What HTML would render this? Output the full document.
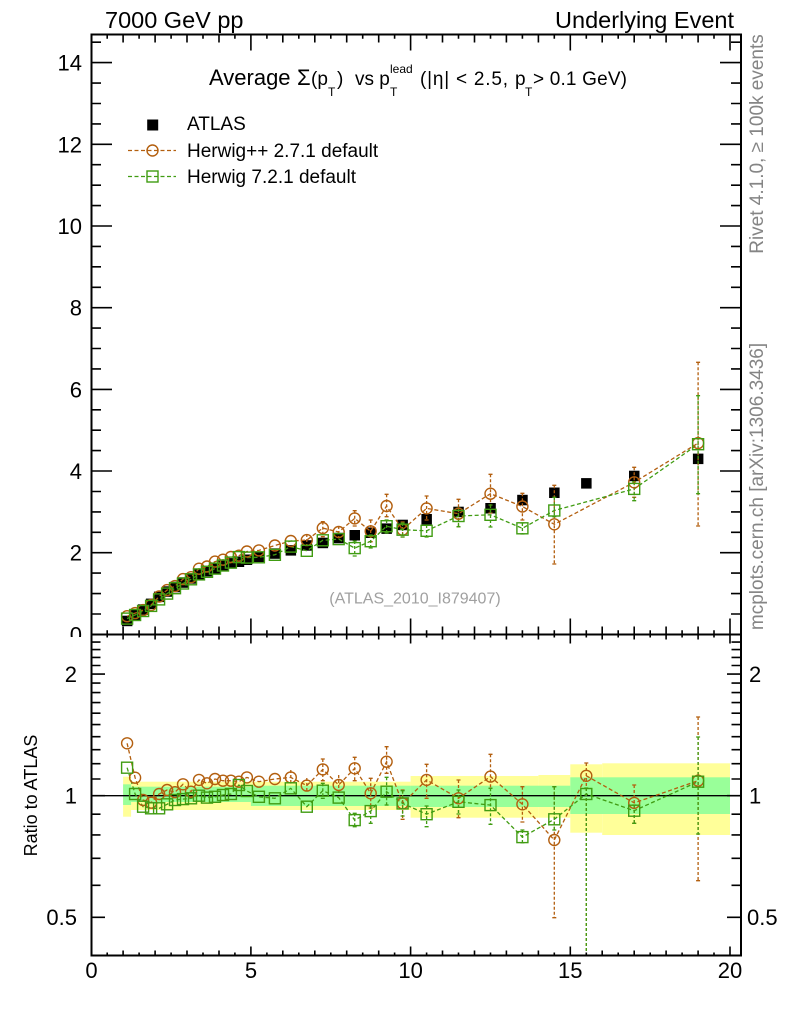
<!DOCTYPE html>
<html><head><meta charset="utf-8"><style>
html,body{margin:0;padding:0;background:#fff;}
svg{display:block;font-family:"Liberation Sans",Arial,sans-serif;}
</style></head><body>
<svg width="786" height="1024" viewBox="0 0 786 1024" xmlns="http://www.w3.org/2000/svg">
<rect width="786" height="1024" fill="#fff"/>
<defs>
<clipPath id="cm"><rect x="91.5" y="34.5" width="649.5" height="600"/></clipPath>
<clipPath id="cr"><rect x="91.5" y="634.5" width="649.5" height="321"/></clipPath>
<clipPath id="c0"><rect x="0" y="0" width="91" height="637"/></clipPath>
</defs>

<!-- ===== Ratio bands ===== -->
<g clip-path="url(#cr)">
<g fill="#ffff99">
<rect x="123.1" y="776.7" width="8" height="40"/>
<rect x="131.1" y="781.7" width="279.5" height="28.3"/>
<rect x="410.6" y="776" width="127.8" height="41.7"/>
<rect x="538.4" y="775" width="31.9" height="42.7"/>
<rect x="570.3" y="764.3" width="31.9" height="68.4"/>
<rect x="602.2" y="763.3" width="127.8" height="71.7"/>
</g>
<g fill="#99ff99">
<rect x="123.1" y="784.3" width="8" height="20.7"/>
<rect x="131.1" y="786.7" width="119.8" height="15.3"/>
<rect x="250.9" y="785.7" width="159.7" height="20.3"/>
<rect x="410.6" y="785.7" width="159.7" height="21.3"/>
<rect x="570.3" y="777.3" width="159.7" height="36.7"/>
</g>
<path d="M91.5 795.7H741" stroke="#000" stroke-width="1.3"/>

<!-- ratio error bars -->
<g stroke="#b35f0f" stroke-width="1.3" fill="none">
<path stroke-dasharray="3 2" d="M290.8 770V785M306.8 778V793M322.8 759V780.7M338.7 775V795M354.7 757.3V780.7M370.7 778.3V808M386.6 746.7V773.3M402.6 790V819.3M426.6 764.3V798.3M458.5 780V817.7M490.5 754.3V788.3M522.4 786.7V822M554.3 786.7V917.7M586.3 763V960M634.2 785V823.3M698.1 717V880.7"/>
<path d="M320.8 759h4M320.8 780.7h4M352.7 757.3h4M352.7 780.7h4M368.7 778.3h4M368.7 808h4M384.6 746.7h4M384.6 773.3h4M400.6 790h4M400.6 819.3h4M424.6 764.3h4M424.6 798.3h4M456.5 780h4M456.5 817.7h4M488.5 754.3h4M488.5 788.3h4M520.4 786.7h4M520.4 822h4M552.3 786.7h4M552.3 917.7h4M584.3 763h4M632.2 785h4M632.2 823.3h4M696.1 717h4M696.1 880.7h4"/>
</g>
<g stroke="#409c12" stroke-width="1.3" fill="none">
<path stroke-dasharray="3 2" d="M322.8 783.3V798.3M354.7 813.3V826.7M370.7 806V823.3M386.6 777.3V805M402.6 790.7V816M426.6 806V826.7M458.5 790V814M490.5 788.3V824.3M522.4 830V842.7M554.3 786.7V830M586.3 788V960M634.2 805V823.3M698.1 737V834"/>
<path d="M320.8 783.3h4M320.8 798.3h4M352.7 813.3h4M352.7 826.7h4M368.7 806h4M368.7 823.3h4M384.6 777.3h4M384.6 805h4M400.6 790.7h4M400.6 816h4M424.6 806h4M424.6 826.7h4M456.5 790h4M456.5 814h4M488.5 788.3h4M488.5 824.3h4M520.4 830h4M520.4 842.7h4M552.3 786.7h4M552.3 830h4M584.3 788h4M632.2 805h4M632.2 823.3h4M696.1 737h4M696.1 834h4"/>
</g>

<!-- ratio lines -->
<polyline fill="none" stroke="#b35f0f" stroke-width="1.3" stroke-dasharray="4 2.5" points="127.1,743.3 135.1,777.7 143.1,800 151.1,802.7 159.1,794 167.1,790 175,792.2 183,784.3 191,791.7 199,779.9 207,783.3 215,779 223,780.7 230.9,780.7 238.9,781.7 246.9,777.4 258.9,781.7 274.9,779 290.8,777.4 306.8,785.6 322.8,769.4 338.7,785 354.7,768.3 370.7,793.3 386.6,761.7 402.6,803.4 426.6,779.9 458.5,798.3 490.5,776.6 522.4,804.3 554.3,840 586.3,775.8 634.2,802.9 698.1,780.7"/>
<polyline fill="none" stroke="#409c12" stroke-width="1.3" stroke-dasharray="4 2.5" points="127.1,767.7 135.1,794 143.1,806.7 151.1,808.3 159.1,808.3 167.1,804.3 175,800 183,799.1 191,798.3 199,795.7 207,797.6 215,796.8 223,795 230.9,794 238.9,785 246.9,791 258.9,796.8 274.9,798.3 290.8,788.3 306.8,806.7 322.8,790.7 338.7,797.6 354.7,820.1 370.7,811.1 386.6,791.7 402.6,803.4 426.6,814.2 458.5,801.8 490.5,805.1 522.4,837.1 554.3,819.3 586.3,794 634.2,810.7 698.1,781.7"/>

<!-- ratio markers -->
<g fill="none" stroke="#b35f0f" stroke-width="1.4">
<circle cx="127.1" cy="743.3" r="5.5"/><circle cx="135.1" cy="777.7" r="5.5"/><circle cx="143.1" cy="800" r="5.5"/><circle cx="151.1" cy="802.7" r="5.5"/><circle cx="159.1" cy="794" r="5.5"/><circle cx="167.1" cy="790" r="5.5"/><circle cx="175" cy="792.2" r="5.5"/><circle cx="183" cy="784.3" r="5.5"/><circle cx="191" cy="791.7" r="5.5"/><circle cx="199" cy="779.9" r="5.5"/><circle cx="207" cy="783.3" r="5.5"/><circle cx="215" cy="779" r="5.5"/><circle cx="223" cy="780.7" r="5.5"/><circle cx="230.9" cy="780.7" r="5.5"/><circle cx="238.9" cy="781.7" r="5.5"/><circle cx="246.9" cy="777.4" r="5.5"/><circle cx="258.9" cy="781.7" r="5.5"/><circle cx="274.9" cy="779" r="5.5"/><circle cx="290.8" cy="777.4" r="5.5"/><circle cx="306.8" cy="785.6" r="5.5"/><circle cx="322.8" cy="769.4" r="5.5"/><circle cx="338.7" cy="785" r="5.5"/><circle cx="354.7" cy="768.3" r="5.5"/><circle cx="370.7" cy="793.3" r="5.5"/><circle cx="386.6" cy="761.7" r="5.5"/><circle cx="402.6" cy="803.4" r="5.5"/><circle cx="426.6" cy="779.9" r="5.5"/><circle cx="458.5" cy="798.3" r="5.5"/><circle cx="490.5" cy="776.6" r="5.5"/><circle cx="522.4" cy="804.3" r="5.5"/><circle cx="554.3" cy="840" r="5.5"/><circle cx="586.3" cy="775.8" r="5.5"/><circle cx="634.2" cy="802.9" r="5.5"/><circle cx="698.1" cy="780.7" r="5.5"/>
</g>
<g fill="none" stroke="#409c12" stroke-width="1.4">
<rect x="121.6" y="762.2" width="11" height="11"/><rect x="129.6" y="788.5" width="11" height="11"/><rect x="137.6" y="801.2" width="11" height="11"/><rect x="145.6" y="802.8" width="11" height="11"/><rect x="153.6" y="802.8" width="11" height="11"/><rect x="161.6" y="798.8" width="11" height="11"/><rect x="169.5" y="794.5" width="11" height="11"/><rect x="177.5" y="793.6" width="11" height="11"/><rect x="185.5" y="792.8" width="11" height="11"/><rect x="193.5" y="790.2" width="11" height="11"/><rect x="201.5" y="792.1" width="11" height="11"/><rect x="209.5" y="791.3" width="11" height="11"/><rect x="217.5" y="789.5" width="11" height="11"/><rect x="225.4" y="788.5" width="11" height="11"/><rect x="233.4" y="779.5" width="11" height="11"/><rect x="241.4" y="785.5" width="11" height="11"/><rect x="253.4" y="791.3" width="11" height="11"/><rect x="269.4" y="792.8" width="11" height="11"/><rect x="285.3" y="782.8" width="11" height="11"/><rect x="301.3" y="801.2" width="11" height="11"/><rect x="317.3" y="785.2" width="11" height="11"/><rect x="333.2" y="792.1" width="11" height="11"/><rect x="349.2" y="814.6" width="11" height="11"/><rect x="365.2" y="805.6" width="11" height="11"/><rect x="381.1" y="786.2" width="11" height="11"/><rect x="397.1" y="797.9" width="11" height="11"/><rect x="421.1" y="808.7" width="11" height="11"/><rect x="453" y="796.3" width="11" height="11"/><rect x="485" y="799.6" width="11" height="11"/><rect x="516.9" y="831.6" width="11" height="11"/><rect x="548.8" y="813.8" width="11" height="11"/><rect x="580.8" y="788.5" width="11" height="11"/><rect x="628.7" y="805.2" width="11" height="11"/><rect x="692.6" y="776.2" width="11" height="11"/>
</g>
</g>

<!-- ===== Main plot ===== -->
<g clip-path="url(#cm)">
<g fill="#000">
<rect x="121.9" y="615.7" width="10.5" height="10.5"/><rect x="129.9" y="610" width="10.5" height="10.5"/><rect x="137.9" y="604.3" width="10.5" height="10.5"/><rect x="145.9" y="598.6" width="10.5" height="10.5"/><rect x="153.9" y="591.6" width="10.5" height="10.5"/><rect x="161.9" y="586.3" width="10.5" height="10.5"/><rect x="169.8" y="581.8" width="10.5" height="10.5"/><rect x="177.8" y="577.3" width="10.5" height="10.5"/><rect x="185.8" y="573.2" width="10.5" height="10.5"/><rect x="193.8" y="569.2" width="10.5" height="10.5"/><rect x="201.8" y="565.9" width="10.5" height="10.5"/><rect x="209.8" y="563" width="10.5" height="10.5"/><rect x="217.8" y="560.6" width="10.5" height="10.5"/><rect x="225.7" y="558.1" width="10.5" height="10.5"/><rect x="233.7" y="556.5" width="10.5" height="10.5"/><rect x="241.7" y="554.5" width="10.5" height="10.5"/><rect x="253.7" y="551.6" width="10.5" height="10.5"/><rect x="269.7" y="548.3" width="10.5" height="10.5"/><rect x="285.6" y="545.1" width="10.5" height="10.5"/><rect x="301.6" y="540.2" width="10.5" height="10.5"/><rect x="317.6" y="537.7" width="10.5" height="10.5"/><rect x="333.5" y="532.8" width="10.5" height="10.5"/><rect x="349.5" y="530" width="10.5" height="10.5"/><rect x="365.5" y="527.5" width="10.5" height="10.5"/><rect x="381.4" y="523.4" width="10.5" height="10.5"/><rect x="397.4" y="519.7" width="10.5" height="10.5"/><rect x="421.4" y="514" width="10.5" height="10.5"/><rect x="453.3" y="506.7" width="10.5" height="10.5"/><rect x="485.3" y="503" width="10.5" height="10.5"/><rect x="517.2" y="494.8" width="10.5" height="10.5"/><rect x="549.1" y="487.5" width="10.5" height="10.5"/><rect x="581.1" y="478.1" width="10.5" height="10.5"/><rect x="629" y="470.7" width="10.5" height="10.5"/><rect x="692.9" y="453.6" width="10.5" height="10.5"/>
</g>

<g stroke="#b35f0f" stroke-width="1.3" fill="none">
<path stroke-dasharray="3 2" d="M306.8 534V546M322.8 521.7V536.7M338.7 526V538M354.7 510.7V526M370.7 520V541.7M386.6 494.3V516.7M402.6 522V537M426.6 496V520M458.5 499.3V526.7M490.5 474.3V513M522.4 493.3V520M554.3 485.3V564M634.2 467.3V497.3M698.1 362.3V526"/>
<path d="M320.8 521.7h4M320.8 536.7h4M352.7 510.7h4M352.7 526h4M368.7 520h4M368.7 541.7h4M384.6 494.3h4M384.6 516.7h4M400.6 522h4M400.6 537h4M424.6 496h4M424.6 520h4M456.5 499.3h4M456.5 526.7h4M488.5 474.3h4M488.5 513h4M520.4 493.3h4M520.4 520h4M552.3 485.3h4M552.3 564h4M632.2 467.3h4M632.2 497.3h4M696.1 362.3h4M696.1 526h4"/>
</g>
<g stroke="#409c12" stroke-width="1.3" fill="none">
<path stroke-dasharray="3 2" d="M354.7 541V556M370.7 535V548M386.6 520V533M402.6 523V537M426.6 525V537M458.5 508V526.7M490.5 505V527M522.4 523V534M554.3 497.3V516.7M634.2 481.7V500.7M698.1 395.7V493.7"/>
<path d="M352.7 541h4M352.7 556h4M368.7 535h4M368.7 548h4M384.6 520h4M384.6 533h4M400.6 523h4M400.6 537h4M424.6 525h4M424.6 537h4M456.5 508h4M456.5 526.7h4M488.5 505h4M488.5 527h4M520.4 523h4M520.4 534h4M552.3 497.3h4M552.3 516.7h4M632.2 481.7h4M632.2 500.7h4M696.1 395.7h4M696.1 493.7h4"/>
</g>

<polyline fill="none" stroke="#b35f0f" stroke-width="1.3" stroke-dasharray="4 2.5" points="127.1,616.2 135.1,613.1 143.1,610.1 151.1,605 159.1,596.5 167.1,590.1 175,586.1 183,579.1 191,577.2 199,568.7 207,566.5 215,561.6 223,559.7 230.9,557 238.9,555.7 246.9,551.5 258.9,550.4 274.9,545.5 290.8,541 306.8,540.1 322.8,528.1 338.7,532 354.7,518.4 370.7,531.3 386.6,506 402.6,529.7 426.6,508.4 458.5,513.7 490.5,493.7 522.4,506.5 554.3,524.3 634.2,482.3 698.1,443.1"/>
<polyline fill="none" stroke="#409c12" stroke-width="1.3" stroke-dasharray="4 2.5" points="127.1,618.6 135.1,615 143.1,611 151.1,605.9 159.1,599.4 167.1,593.6 175,588.2 183,583.5 191,579.3 199,574.4 207,571.8 215,568.6 223,565.5 230.9,562.6 238.9,557.1 246.9,557.6 258.9,557.3 274.9,554.8 290.8,546.6 306.8,550.8 322.8,540.3 338.7,539.1 354.7,548.1 370.7,541.2 386.6,526.2 402.6,529.7 426.6,530.8 458.5,516 490.5,514.8 522.4,528.3 554.3,510.5 634.2,488.9 698.1,444.2"/>

<g fill="none" stroke="#b35f0f" stroke-width="1.4">
<circle cx="127.1" cy="616.2" r="5.5"/><circle cx="135.1" cy="613.1" r="5.5"/><circle cx="143.1" cy="610.1" r="5.5"/><circle cx="151.1" cy="605" r="5.5"/><circle cx="159.1" cy="596.5" r="5.5"/><circle cx="167.1" cy="590.1" r="5.5"/><circle cx="175" cy="586.1" r="5.5"/><circle cx="183" cy="579.1" r="5.5"/><circle cx="191" cy="577.2" r="5.5"/><circle cx="199" cy="568.7" r="5.5"/><circle cx="207" cy="566.5" r="5.5"/><circle cx="215" cy="561.6" r="5.5"/><circle cx="223" cy="559.7" r="5.5"/><circle cx="230.9" cy="557" r="5.5"/><circle cx="238.9" cy="555.7" r="5.5"/><circle cx="246.9" cy="551.5" r="5.5"/><circle cx="258.9" cy="550.4" r="5.5"/><circle cx="274.9" cy="545.5" r="5.5"/><circle cx="290.8" cy="541" r="5.5"/><circle cx="306.8" cy="540.1" r="5.5"/><circle cx="322.8" cy="528.1" r="5.5"/><circle cx="338.7" cy="532" r="5.5"/><circle cx="354.7" cy="518.4" r="5.5"/><circle cx="370.7" cy="531.3" r="5.5"/><circle cx="386.6" cy="506" r="5.5"/><circle cx="402.6" cy="529.7" r="5.5"/><circle cx="426.6" cy="508.4" r="5.5"/><circle cx="458.5" cy="513.7" r="5.5"/><circle cx="490.5" cy="493.7" r="5.5"/><circle cx="522.4" cy="506.5" r="5.5"/><circle cx="554.3" cy="524.3" r="5.5"/><circle cx="634.2" cy="482.3" r="5.5"/><circle cx="698.1" cy="443.1" r="5.5"/>
</g>
<g fill="none" stroke="#409c12" stroke-width="1.4">
<rect x="121.6" y="613.1" width="11" height="11"/><rect x="129.6" y="609.5" width="11" height="11"/><rect x="137.6" y="605.5" width="11" height="11"/><rect x="145.6" y="600.4" width="11" height="11"/><rect x="153.6" y="593.9" width="11" height="11"/><rect x="161.6" y="588.1" width="11" height="11"/><rect x="169.5" y="582.7" width="11" height="11"/><rect x="177.5" y="578" width="11" height="11"/><rect x="185.5" y="573.8" width="11" height="11"/><rect x="193.5" y="568.9" width="11" height="11"/><rect x="201.5" y="566.3" width="11" height="11"/><rect x="209.5" y="563.1" width="11" height="11"/><rect x="217.5" y="560" width="11" height="11"/><rect x="225.4" y="557.1" width="11" height="11"/><rect x="233.4" y="551.6" width="11" height="11"/><rect x="241.4" y="552.1" width="11" height="11"/><rect x="253.4" y="551.8" width="11" height="11"/><rect x="269.4" y="549.3" width="11" height="11"/><rect x="285.3" y="541.1" width="11" height="11"/><rect x="301.3" y="545.3" width="11" height="11"/><rect x="317.3" y="534.8" width="11" height="11"/><rect x="333.2" y="533.6" width="11" height="11"/><rect x="349.2" y="542.6" width="11" height="11"/><rect x="365.2" y="535.7" width="11" height="11"/><rect x="381.1" y="520.7" width="11" height="11"/><rect x="397.1" y="524.2" width="11" height="11"/><rect x="421.1" y="525.3" width="11" height="11"/><rect x="453" y="510.5" width="11" height="11"/><rect x="485" y="509.3" width="11" height="11"/><rect x="516.9" y="522.8" width="11" height="11"/><rect x="548.8" y="505" width="11" height="11"/><rect x="628.7" y="483.4" width="11" height="11"/><rect x="692.6" y="438.7" width="11" height="11"/>
</g>
</g>

<!-- ===== Legend ===== -->
<rect x="147.2" y="119.5" width="11" height="11" fill="#000"/>
<path d="M128 150.5H176" stroke="#b35f0f" stroke-width="1.3" stroke-dasharray="4 2.5"/>
<circle cx="152.5" cy="150.5" r="5.5" fill="none" stroke="#b35f0f" stroke-width="1.4"/>
<path d="M128 176.5H176" stroke="#409c12" stroke-width="1.3" stroke-dasharray="4 2.5"/>
<rect x="147" y="171" width="11" height="11" fill="none" stroke="#409c12" stroke-width="1.4"/>
<g font-size="19" fill="#000">
<text x="187" y="130">ATLAS</text>
<text x="187" y="157">Herwig++ 2.7.1 default</text>
<text x="187" y="183">Herwig 7.2.1 default</text>
</g>

<!-- ===== Frames ===== -->
<rect x="91.5" y="34.5" width="649.5" height="600" fill="none" stroke="#000" stroke-width="2"/>
<rect x="91.5" y="634.5" width="649.5" height="321" fill="none" stroke="#000" stroke-width="2"/>

<g id="mly" stroke="#000" stroke-width="1.6" fill="none">
<path d="M91 552.7h21M91 471h21M91 389.4h21M91 307.7h21M91 226h21M91 144.3h21M91 62.6h21"/>
<path d="M91 614h10M91 593.6h10M91 573.1h10M91 532.3h10M91 511.9h10M91 491.5h10M91 450.6h10M91 430.2h10M91 409.8h10M91 368.9h10M91 348.5h10M91 328.1h10M91 287.3h10M91 266.8h10M91 246.4h10M91 205.6h10M91 185.2h10M91 164.7h10M91 123.9h10M91 103.5h10M91 83.1h10M91 42.2h10"/>
</g>
<use href="#mly" transform="translate(832,0) scale(-1,1)"/>

<g id="rly" stroke="#000" stroke-width="1.6" fill="none">
<path d="M91 917.3h14M91 795.7h14M91 674.1h14"/>
<path d="M91 885.3h9.5M91 858.3h9.5M91 834.9h9.5M91 814.2h9.5M91 779h9.5M91 763.7h9.5M91 749.7h9.5M91 736.7h9.5M91 724.6h9.5M91 713.2h9.5M91 702.6h9.5M91 692.6h9.5M91 683.1h9.5M91 665.5h9.5M91 657.4h9.5M91 649.6h9.5M91 642.1h9.5"/>
</g>
<use href="#rly" transform="translate(832,0) scale(-1,1)"/>

<g id="mtx" stroke="#000" stroke-width="1.6" fill="none">
<path d="M250.9 34.5v16M410.6 34.5v16M570.3 34.5v16M730 34.5v16"/>
<path d="M123.1 34.5v8M155.1 34.5v8M187 34.5v8M219 34.5v8M282.8 34.5v8M314.8 34.5v8M346.7 34.5v8M378.7 34.5v8M442.5 34.5v8M474.5 34.5v8M506.4 34.5v8M538.4 34.5v8M602.2 34.5v8M634.2 34.5v8M666.1 34.5v8M698.1 34.5v8"/>
<path d="M107.2 34.5v4.3M139.1 34.5v4.3M171.1 34.5v4.3M203 34.5v4.3M234.9 34.5v4.3M266.9 34.5v4.3M298.8 34.5v4.3M330.8 34.5v4.3M362.7 34.5v4.3M394.6 34.5v4.3M426.6 34.5v4.3M458.5 34.5v4.3M490.5 34.5v4.3M522.4 34.5v4.3M554.3 34.5v4.3M586.3 34.5v4.3M618.2 34.5v4.3M650.2 34.5v4.3M682.1 34.5v4.3M714 34.5v4.3"/>
</g>
<use href="#mtx" transform="translate(0,669) scale(1,-1)"/>

<g id="rtx" stroke="#000" stroke-width="1.6" fill="none">
<path d="M250.9 634.5v9M410.6 634.5v9M570.3 634.5v9M730 634.5v9"/>
<path d="M123.1 634.5v5M155.1 634.5v5M187 634.5v5M219 634.5v5M282.8 634.5v5M314.8 634.5v5M346.7 634.5v5M378.7 634.5v5M442.5 634.5v5M474.5 634.5v5M506.4 634.5v5M538.4 634.5v5M602.2 634.5v5M634.2 634.5v5M666.1 634.5v5M698.1 634.5v5"/>
<path d="M107.2 634.5v3M139.1 634.5v3M171.1 634.5v3M203 634.5v3M234.9 634.5v3M266.9 634.5v3M298.8 634.5v3M330.8 634.5v3M362.7 634.5v3M394.6 634.5v3M426.6 634.5v3M458.5 634.5v3M490.5 634.5v3M522.4 634.5v3M554.3 634.5v3M586.3 634.5v3M618.2 634.5v3M650.2 634.5v3M682.1 634.5v3M714 634.5v3"/>
</g>
<use href="#rtx" transform="translate(0,1590) scale(1,-1)"/>

<!-- ===== Tick labels ===== -->
<g font-size="22" fill="#000" text-anchor="end">
<text x="82" y="70.6">14</text>
<text x="82" y="152.3">12</text>
<text x="82" y="234">10</text>
<text x="82" y="315.7">8</text>
<text x="82" y="397.4">6</text>
<text x="82" y="479">4</text>
<text x="82" y="560.7">2</text>
<text x="82" y="642.4" clip-path="url(#c0)">0</text>
<text x="77" y="681.8">2</text>
<text x="77" y="803.5">1</text>
<text x="77" y="925">0.5</text>
</g>
<g font-size="22" fill="#000">
<text x="749" y="681.8">2</text>
<text x="749" y="803.5">1</text>
<text x="747" y="925">0.5</text>
</g>
<g font-size="22" fill="#000" text-anchor="middle">
<text x="91.5" y="978">0</text>
<text x="251" y="978">5</text>
<text x="410.6" y="978">10</text>
<text x="570.3" y="978">15</text>
<text x="730" y="978">20</text>
</g>

<!-- ===== Titles & labels ===== -->
<text x="105" y="28" font-size="23.5" fill="#000">7000 GeV pp</text>
<text x="734" y="28" font-size="23.5" fill="#000" text-anchor="end">Underlying Event</text>

<g fill="#000">
<text x="209" y="85" font-size="22">Average</text>
<text x="297" y="85" font-size="22">Σ</text>
<text x="311" y="85" font-size="19">(p</text>
<text x="328" y="96" font-size="12">T</text>
<text x="337" y="85" font-size="19">)</text>
<text x="355" y="85" font-size="19">vs p</text>
<text x="390" y="73" font-size="12">lead</text>
<text x="390" y="96" font-size="12">T</text>
<text x="420" y="85" font-size="19" textLength="88" lengthAdjust="spacing">(|η| &lt; 2.5,</text>
<text x="515" y="85" font-size="19">p</text>
<text x="525" y="96" font-size="12">T</text>
<text x="533" y="85" font-size="19" textLength="94" lengthAdjust="spacing">&gt; 0.1 GeV)</text>
</g>

<text x="415" y="603.5" font-size="16" fill="#a0a0a0" text-anchor="middle">(ATLAS_2010_I879407)</text>

<text transform="translate(37,795.5) rotate(-90)" font-size="18" fill="#000" text-anchor="middle">Ratio to ATLAS</text>

<text transform="translate(763,144) rotate(-90)" font-size="19" fill="#858585" text-anchor="middle">Rivet 4.1.0, ≥ 100k events</text>
<text transform="translate(763,486.5) rotate(-90)" font-size="19" fill="#858585" text-anchor="middle">mcplots.cern.ch [arXiv:1306.3436]</text>
</svg>
</body></html>
